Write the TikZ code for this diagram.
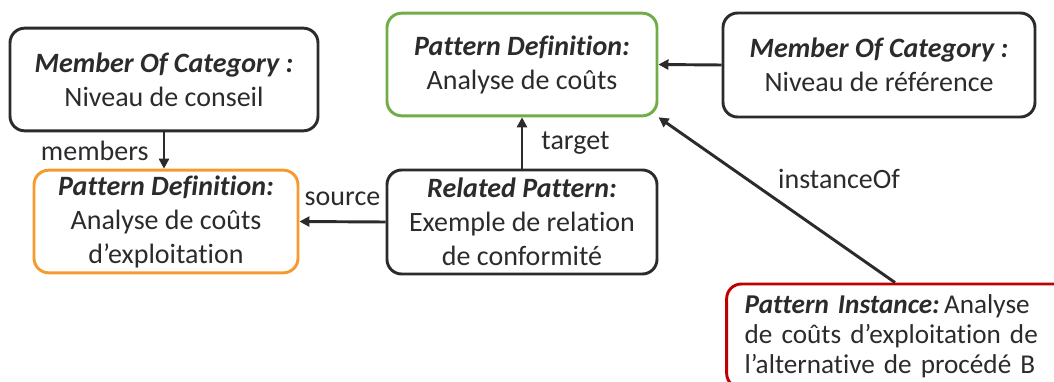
\documentclass[tikz,border=0pt]{standalone}
\usepackage{fontspec}
\setmainfont{Carlito}[Ligatures=NoCommon]
\usetikzlibrary{arrows.meta}
\definecolor{ink}{HTML}{2B2B2B}
\definecolor{pdorange}{HTML}{F79A2E}
\definecolor{pdgreen}{HTML}{70AD47}
\definecolor{pired}{HTML}{C00000}
\tikzset{
  box/.style={draw=ink, line width=2.2pt, rounded corners=11pt, minimum height=77pt, align=center,
              text=ink, font=\fontsize{21}{25.5}\selectfont, inner sep=2pt},
  arr/.style={-{Triangle[length=7.5pt,width=7.5pt]}, line width=2.2pt, draw=ink},
  lbl/.style={text=ink, font=\fontsize{21}{25.5}\selectfont, inner sep=0pt}
}

\begin{document}
\begin{tikzpicture}[x=0.75pt,y=-0.75pt]
\clip (0,0) rectangle (1054,382);
\node[box, minimum width=231pt] (mocl) at (164,79.5) {\textbf{\textit{Member Of Category :}}\\ Niveau de conseil};
\node[box, draw=pdorange, minimum width=198pt] (pdo) at (166,221.5) {\textbf{\textit{Pattern Definition:}}\\ Analyse de coûts\\ d’exploitation};
\node[box, draw=pdgreen, minimum width=202.5pt] (pdg) at (522,64.5) {\textbf{\textit{Pattern Definition:}}\\ Analyse de coûts};
\node[box, minimum width=202.5pt, minimum height=78pt] (rp) at (522,222) {\textbf{\textit{Related Pattern:}}\\ Exemple de relation\\ de conformité};
\node[box, minimum width=234pt, minimum height=78pt] (mocr) at (879,65) {\textbf{\textit{Member Of Category :}}\\ Niveau de référence};
\node[box, draw=pired, minimum height=78pt, inner xsep=13.5pt, text width=260pt, align=left,
      font=\fontsize{20.4}{22.4}\selectfont] (pi) at (918,336)
      {\textbf{\textit{Pattern Instance:}}\,Analyse\\ de coûts d’exploitation de\\ l’alternative de procédé B};
\draw[arr] (mocl.south) -- node[lbl, left=10.5pt] {members} (mocl.south |- pdo.north);
\draw[arr] (rp.north) -- node[lbl, right=13.5pt] {target} (pdg.south);
\draw[arr] (rp.west) -- node[lbl, above=11pt] {source} (pdo.east);
\draw[arr] (mocr.west) -- (pdg.east);
\draw[arr] (pi.north -| 895,0) -- node[lbl, pos=0.5, anchor=south west, xshift=0pt, yshift=7pt] {instanceOf} (pdg.south east);
\end{tikzpicture}
\end{document}
